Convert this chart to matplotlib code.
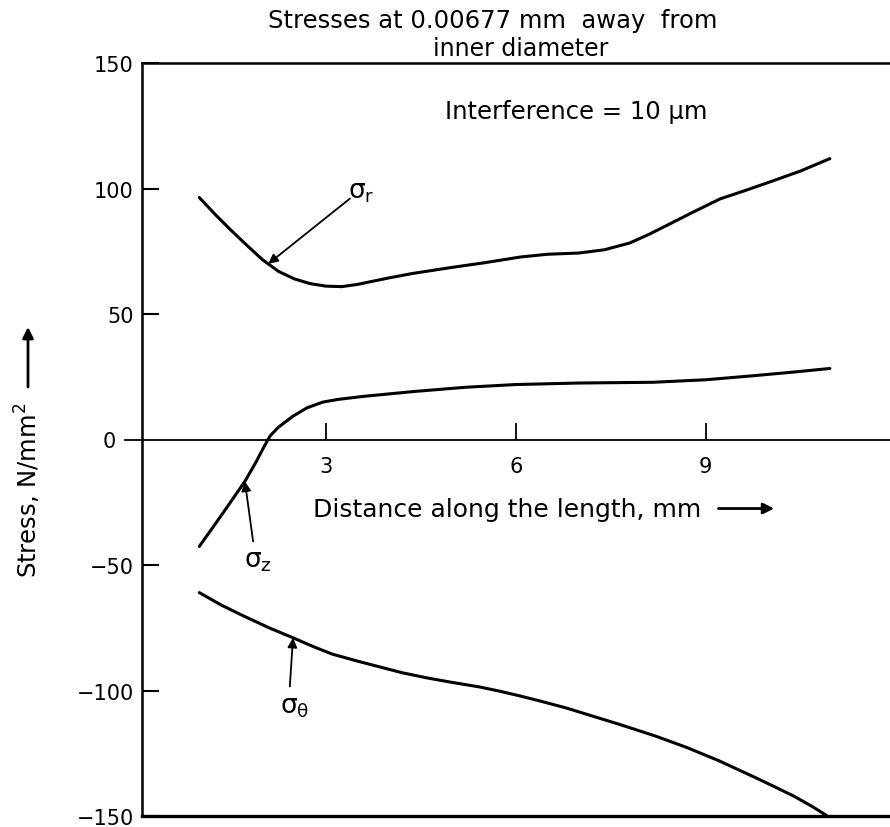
import matplotlib
matplotlib.use("Agg")
import matplotlib.pyplot as plt
from matplotlib.patches import FancyArrowPatch

# ---- data ----
x_r = [1.0, 1.25, 1.5, 1.75, 2.0, 2.25, 2.5, 2.75, 3.0, 3.25, 3.5, 4.0, 4.38, 5.0, 5.5,
       6.07, 6.5, 7.0, 7.4, 7.8, 8.1, 8.44, 8.8, 9.23, 9.6, 10.0, 10.5, 10.96]
s_r = [96.4, 89.7, 83.4, 77.4, 71.6, 67.0, 64.0, 62.1, 61.1, 60.9, 61.8, 64.4, 66.2, 68.6, 70.4,
       72.7, 73.8, 74.3, 75.6, 78.3, 81.7, 86.0, 90.6, 95.9, 99.0, 102.5, 107.0, 111.9]

x_z = [1.0, 1.36, 1.72, 1.9, 2.02, 2.12, 2.25, 2.48, 2.7, 2.95, 3.2, 3.6, 4.38, 5.2,
       6.0, 7.0, 8.17, 9.0, 9.75, 10.4, 10.96]
s_z = [-42.6, -29.8, -16.7, -8.8, -3.0, 1.5, 4.9, 9.3, 12.6, 14.9, 16.0, 17.2, 19.1, 20.8,
       21.9, 22.5, 22.8, 23.8, 25.4, 26.9, 28.3]

x_t = [1.0, 1.35, 1.7, 2.1, 2.48, 2.8, 3.1, 3.5, 3.85, 4.2, 4.6, 5.0, 5.43, 5.75, 6.07,
       6.4, 6.8, 7.2, 7.65, 8.2, 8.7, 9.2, 9.75, 10.1, 10.4, 10.7, 10.92]
s_t = [-61.0, -66.0, -70.3, -75.0, -79.0, -82.5, -85.5, -88.3, -90.6, -92.9, -95.0, -96.8,
       -98.6, -100.3, -102.2, -104.3, -107.0, -110.1, -113.6, -118.1, -122.7, -127.9,
       -134.3, -138.5, -142.2, -146.5, -150.0]

x_ticks = [3, 6, 9]
y_ticks = [-150, -100, -50, 50, 100, 150]
title_1 = "Stresses at 0.00677 mm  away  from"
title_2 = "inner diameter"
note = "Interference = 10 μm"
xlabel = "Distance along the length, mm"
ylabel = "Stress, N/mm$^2$"

plt.rcParams['font.family'] = ['DejaVu Sans']
W, H = 890, 828
fig = plt.figure(figsize=(W / 100, H / 100), dpi=100)
ax = fig.add_axes([142 / W, 1 - 817 / H, (W - 142) / W, (817 - 64) / H])
ax.set_xlim(0.095, 11.91)
ax.set_ylim(-150, 150)

lw = 2.2
for xs, ys in [(x_r, s_r), (x_z, s_z), (x_t, s_t)]:
    ax.plot(xs, ys, color='black', lw=lw, solid_capstyle='round', solid_joinstyle='round')

# spines
ax.spines['right'].set_visible(False)
ax.spines['left'].set_linewidth(1.8)
ax.spines['top'].set_linewidth(1.8)
ax.spines['bottom'].set_position(('data', 0))
ax.spines['bottom'].set_linewidth(1.3)
ax.axhline(-150, color='black', lw=2.4, clip_on=False)

# zero line extension to the left of the spine
ax.plot([-17 / 63.3 + 0.095, 0.095], [0, 0], color='black', lw=1.3, clip_on=False)

# ticks
ax.set_xticks(x_ticks)
ax.set_xticklabels([str(v) for v in x_ticks])
ax.tick_params(axis='x', direction='in', length=12, width=1.3, pad=12, labelsize=15)
ax.xaxis.set_minor_locator(matplotlib.ticker.NullLocator())
ax.set_yticks(y_ticks)
ax.set_yticklabels([str(v).replace('-', '\u2212') for v in y_ticks])
ax.tick_params(axis='y', which='major', direction='in', length=12, width=1.5, pad=6, labelsize=15)
ax.set_yticks([0], labels=['0'], minor=True)
ax.tick_params(axis='y', which='minor', length=0, pad=19, labelsize=15)

# titles / texts
fig.text(493 / W, 1 - 21 / H, title_1, ha='center', va='center', fontsize=17.5)
fig.text(521 / W, 1 - 49 / H, title_2, ha='center', va='center', fontsize=17)
ax.text(6.95, 131, note, ha='center', va='center', fontsize=17.5)
ax.text(2.8, -27.5, xlabel, ha='left', va='center', fontsize=18)
ax.annotate('', xy=(10.08, -27.5), xytext=(9.2, -27.5),
            arrowprops=dict(arrowstyle='-|>', color='black', lw=2, mutation_scale=16,
                            shrinkA=0, shrinkB=0))

fig.text(28 / W, 1 - 490 / H, ylabel, rotation=90, ha='center', va='center', fontsize=17.5)
fig.patches.append(FancyArrowPatch(
    (28 / W, 1 - 388 / H), (28 / W, 1 - 328 / H), transform=fig.transFigure,
    arrowstyle='-|>', color='black', lw=2, mutation_scale=16, shrinkA=0, shrinkB=0))

# annotations
akw = dict(arrowstyle='-|>', color='black', lw=1.3, mutation_scale=14, shrinkA=0, shrinkB=0)
ax.annotate('', xy=(2.09, 70.0), xytext=(3.38, 96.0), arrowprops=akw)
ax.text(3.56, 99.0, 'σ$_\\mathrm{r}$', ha='center', va='center', fontsize=19)
ax.annotate('', xy=(1.72, -16.7), xytext=(1.85, -40.6), arrowprops=akw)
ax.text(1.93, -48.0, 'σ$_\\mathrm{z}$', ha='center', va='center', fontsize=19)
ax.annotate('', xy=(2.48, -79.0), xytext=(2.43, -98.4), arrowprops=akw)
ax.text(2.5, -106.0, 'σ$_\\mathrm{θ}$', ha='center', va='center', fontsize=19)

fig.savefig('out.png', dpi=100)
